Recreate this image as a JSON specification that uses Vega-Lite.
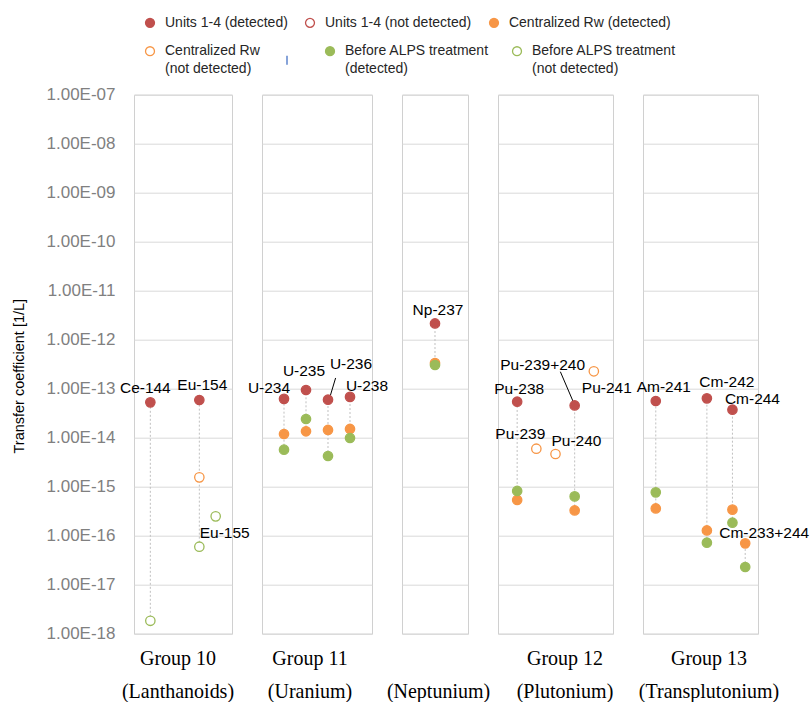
{
  "$schema": "https://vega.github.io/schema/vega-lite/v6.json",
  "padding": {"left": 11, "top": 14.7, "right": 0, "bottom": 0},
  "background": "white",
  "datasets": {
    "pts": [
      {"group": "10", "nuclide": "Ce-144", "pos": 1, "series": "Units 1-4 (detected)", "value": 5.26e-14},
      {"group": "10", "nuclide": "Ce-144", "pos": 1, "series": "Before ALPS treatment (not detected)", "value": 1.83e-18},
      {"group": "10", "nuclide": "Eu-154", "pos": 4, "series": "Units 1-4 (detected)", "value": 5.88e-14},
      {"group": "10", "nuclide": "Eu-154", "pos": 4, "series": "Centralized Rw (not detected)", "value": 1.55e-15},
      {"group": "10", "nuclide": "Eu-154", "pos": 4, "series": "Before ALPS treatment (not detected)", "value": 5.97e-17},
      {"group": "10", "nuclide": "Eu-155", "pos": 5, "series": "Before ALPS treatment (not detected)", "value": 2.48e-16},
      {"group": "11", "nuclide": "U-234", "pos": 1, "series": "Units 1-4 (detected)", "value": 6.2e-14},
      {"group": "11", "nuclide": "U-234", "pos": 1, "series": "Centralized Rw (detected)", "value": 1.19e-14},
      {"group": "11", "nuclide": "U-234", "pos": 1, "series": "Before ALPS treatment (detected)", "value": 5.7e-15},
      {"group": "11", "nuclide": "U-235", "pos": 2, "series": "Units 1-4 (detected)", "value": 9.4e-14},
      {"group": "11", "nuclide": "U-235", "pos": 2, "series": "Centralized Rw (detected)", "value": 1.35e-14},
      {"group": "11", "nuclide": "U-235", "pos": 2, "series": "Before ALPS treatment (detected)", "value": 2.41e-14},
      {"group": "11", "nuclide": "U-236", "pos": 3, "series": "Units 1-4 (detected)", "value": 5.97e-14},
      {"group": "11", "nuclide": "U-236", "pos": 3, "series": "Centralized Rw (detected)", "value": 1.44e-14},
      {"group": "11", "nuclide": "U-236", "pos": 3, "series": "Before ALPS treatment (detected)", "value": 4.23e-15},
      {"group": "11", "nuclide": "U-238", "pos": 4, "series": "Units 1-4 (detected)", "value": 6.8e-14},
      {"group": "11", "nuclide": "U-238", "pos": 4, "series": "Centralized Rw (detected)", "value": 1.51e-14},
      {"group": "11", "nuclide": "U-238", "pos": 4, "series": "Before ALPS treatment (detected)", "value": 9.86e-15},
      {"group": "Np", "nuclide": "Np-237", "pos": 1, "series": "Units 1-4 (detected)", "value": 2.15e-12},
      {"group": "Np", "nuclide": "Np-237", "pos": 1, "series": "Centralized Rw (detected)", "value": 3.34e-13},
      {"group": "Np", "nuclide": "Np-237", "pos": 1, "series": "Before ALPS treatment (detected)", "value": 3.04e-13},
      {"group": "12", "nuclide": "Pu-238", "pos": 1, "series": "Units 1-4 (detected)", "value": 5.43e-14},
      {"group": "12", "nuclide": "Pu-238", "pos": 1, "series": "Centralized Rw (detected)", "value": 5.36e-16},
      {"group": "12", "nuclide": "Pu-238", "pos": 1, "series": "Before ALPS treatment (detected)", "value": 8.2e-16},
      {"group": "12", "nuclide": "Pu-239", "pos": 2, "series": "Centralized Rw (not detected)", "value": 5.97e-15},
      {"group": "12", "nuclide": "Pu-240", "pos": 3, "series": "Centralized Rw (not detected)", "value": 4.64e-15},
      {"group": "12", "nuclide": "Pu-239+240", "pos": 4, "series": "Units 1-4 (detected)", "value": 4.56e-14},
      {"group": "12", "nuclide": "Pu-239+240", "pos": 4, "series": "Centralized Rw (detected)", "value": 3.28e-16},
      {"group": "12", "nuclide": "Pu-239+240", "pos": 4, "series": "Before ALPS treatment (detected)", "value": 6.34e-16},
      {"group": "12", "nuclide": "Pu-241", "pos": 5, "series": "Centralized Rw (not detected)", "value": 2.26e-13},
      {"group": "13", "nuclide": "Am-241", "pos": 1, "series": "Units 1-4 (detected)", "value": 5.6e-14},
      {"group": "13", "nuclide": "Am-241", "pos": 1, "series": "Centralized Rw (detected)", "value": 3.6e-16},
      {"group": "13", "nuclide": "Am-241", "pos": 1, "series": "Before ALPS treatment (detected)", "value": 7.66e-16},
      {"group": "13", "nuclide": "Cm-242", "pos": 5, "series": "Units 1-4 (detected)", "value": 6.35e-14},
      {"group": "13", "nuclide": "Cm-242", "pos": 5, "series": "Centralized Rw (detected)", "value": 1.28e-16},
      {"group": "13", "nuclide": "Cm-242", "pos": 5, "series": "Before ALPS treatment (detected)", "value": 7.2e-17},
      {"group": "13", "nuclide": "Cm-244", "pos": 7, "series": "Units 1-4 (detected)", "value": 3.73e-14},
      {"group": "13", "nuclide": "Cm-244", "pos": 7, "series": "Centralized Rw (detected)", "value": 3.4e-16},
      {"group": "13", "nuclide": "Cm-244", "pos": 7, "series": "Before ALPS treatment (detected)", "value": 1.84e-16},
      {"group": "13", "nuclide": "Cm-233+244", "pos": 8, "series": "Centralized Rw (detected)", "value": 6.97e-17},
      {"group": "13", "nuclide": "Cm-233+244", "pos": 8, "series": "Before ALPS treatment (detected)", "value": 2.3e-17}
    ]
  },
  "data": {"name": "pts"},
  "spacing": 30,
  "bounds": "flush",
  "resolve": {
    "scale": {"x": "independent", "y": "independent", "fill": "independent", "stroke": "independent", "shape": "independent"},
    "legend": {"fill": "independent", "stroke": "independent", "shape": "independent"}
  },
  "hconcat": [
    {
      "width": 98, "height": 539,
      "transform": [{"filter": "datum.group == '10'"}],
      "resolve": {
        "scale": {"fill": "independent", "stroke": "independent", "shape": "independent"},
        "legend": {"fill": "independent", "stroke": "independent", "shape": "independent"}
      },
      "encoding": {
        "x": {"field": "pos", "type": "quantitative", "scale": {"domain": [0, 6], "nice": false, "zero": false},
              "axis": {"title": ["Group 10", "(Lanthanoids)"], "titleX": 43.5, "titleY": 30.5}},
        "y": {"field": "value", "type": "quantitative", "scale": {"type": "log", "domain": [1e-18, 1e-7], "nice": false},
              "axis": {"values": [1e-18, 1e-17, 1e-16, 1e-15, 1e-14, 1e-13, 1e-12, 1e-11, 1e-10, 1e-9, 1e-8, 1e-7],
                       "labelExpr": "'1.00E-' + (round(-log(datum.value)/LN10) < 10 ? '0' : '') + round(-log(datum.value)/LN10)",
                       "title": "Transfer coefficient [1/L]", "titleX": -110.5, "titleY": 281, "titleAngle": 270,
                       "titleBaseline": "alphabetic", "titleAlign": "center"}}
      },
      "layer": [
        {"transform": [{"aggregate": [{"op": "min", "field": "value", "as": "value"}, {"op": "max", "field": "value", "as": "hi"}], "groupby": ["nuclide", "pos"]}],
         "mark": {"type": "rule", "color": "#c0c0c0", "strokeWidth": 1, "strokeDash": [2, 2]},
         "encoding": {"y2": {"field": "hi"}}},
        {"transform": [{"filter": {"field": "series", "oneOf": ["Units 1-4 (detected)", "Units 1-4 (not detected)", "Centralized Rw (detected)"]}}],
         "mark": {"type": "point", "filled": true, "size": 88, "strokeWidth": 1.3, "opacity": 1},
         "encoding": {
           "fill": {"field": "series", "type": "nominal",
             "scale": {"domain": ["Units 1-4 (detected)", "Units 1-4 (not detected)", "Centralized Rw (detected)"], "range": ["#C0504D", "#ffffff", "#F79646"]},
             "legend": {"orient": "none", "legendX": 9, "legendY": -79.3, "direction": "horizontal", "columns": 3, "title": null,
               "symbolSize": 80, "symbolStrokeWidth": 1.3, "symbolOpacity": 1, "labelFont": "Liberation Sans", "labelFontSize": 14,
               "labelColor": "#262626", "labelOffset": 8, "labelLimit": 300, "columnPadding": 14, "padding": 0}},
           "stroke": {"field": "series", "type": "nominal",
             "scale": {"domain": ["Units 1-4 (detected)", "Units 1-4 (not detected)", "Centralized Rw (detected)"], "range": ["#C0504D", "#C0504D", "#F79646"]},
             "legend": {"orient": "none", "legendX": 9, "legendY": -79.3, "direction": "horizontal", "columns": 3, "title": null,
               "symbolSize": 80, "symbolStrokeWidth": 1.3, "symbolOpacity": 1, "labelFont": "Liberation Sans", "labelFontSize": 14,
               "labelColor": "#262626", "labelOffset": 8, "labelLimit": 300, "columnPadding": 14, "padding": 0}}
         }},
        {"transform": [{"filter": {"field": "series", "oneOf": ["Centralized Rw (not detected)", "Before ALPS treatment (detected)", "Before ALPS treatment (not detected)"]}}],
         "mark": {"type": "point", "filled": true, "size": 88, "strokeWidth": 1.3, "opacity": 1},
         "encoding": {
           "fill": {"field": "series", "type": "nominal",
             "scale": {"domain": ["Centralized Rw (not detected)", "(blank)", "Before ALPS treatment (detected)", "Before ALPS treatment (not detected)"], "range": ["#ffffff", "#4472C4", "#9BBB59", "#ffffff"]},
             "legend": {"orient": "none", "legendX": 9, "legendY": -50.5, "direction": "horizontal", "columns": 4, "title": null,
               "symbolSize": 80, "symbolStrokeWidth": 1.3, "symbolOpacity": 1, "labelFont": "Liberation Sans", "labelFontSize": 14,
               "labelColor": "#262626", "labelOffset": 8, "labelLimit": 300, "columnPadding": 20, "padding": 0,
               "labelExpr": "datum.value == 'Centralized Rw (not detected)' ? ['Centralized Rw', '(not detected)'] : datum.value == 'Before ALPS treatment (detected)' ? ['Before ALPS treatment', '(detected)'] : datum.value == 'Before ALPS treatment (not detected)' ? ['Before ALPS treatment', '(not detected)'] : ''"}},
           "stroke": {"field": "series", "type": "nominal",
             "scale": {"domain": ["Centralized Rw (not detected)", "(blank)", "Before ALPS treatment (detected)", "Before ALPS treatment (not detected)"], "range": ["#F79646", "#4472C4", "#9BBB59", "#9BBB59"]},
             "legend": {"orient": "none", "legendX": 9, "legendY": -50.5, "direction": "horizontal", "columns": 4, "title": null,
               "symbolSize": 80, "symbolStrokeWidth": 1.3, "symbolOpacity": 1, "labelFont": "Liberation Sans", "labelFontSize": 14,
               "labelColor": "#262626", "labelOffset": 8, "labelLimit": 300, "columnPadding": 20, "padding": 0,
               "labelExpr": "datum.value == 'Centralized Rw (not detected)' ? ['Centralized Rw', '(not detected)'] : datum.value == 'Before ALPS treatment (detected)' ? ['Before ALPS treatment', '(detected)'] : datum.value == 'Before ALPS treatment (not detected)' ? ['Before ALPS treatment', '(not detected)'] : ''"}},
           "shape": {"field": "series", "type": "nominal",
             "scale": {"domain": ["Centralized Rw (not detected)", "(blank)", "Before ALPS treatment (detected)", "Before ALPS treatment (not detected)"], "range": ["circle", "M0,-1L0,1", "circle", "circle"]},
             "legend": {"orient": "none", "legendX": 9, "legendY": -50.5, "direction": "horizontal", "columns": 4, "title": null,
               "symbolSize": 80, "symbolStrokeWidth": 1.3, "symbolOpacity": 1, "labelFont": "Liberation Sans", "labelFontSize": 14,
               "labelColor": "#262626", "labelOffset": 8, "labelLimit": 300, "columnPadding": 20, "padding": 0,
               "labelExpr": "datum.value == 'Centralized Rw (not detected)' ? ['Centralized Rw', '(not detected)'] : datum.value == 'Before ALPS treatment (detected)' ? ['Before ALPS treatment', '(detected)'] : datum.value == 'Before ALPS treatment (not detected)' ? ['Before ALPS treatment', '(not detected)'] : ''"}}
         }},
        {"transform": [{"aggregate": [{"op": "max", "field": "value", "as": "value"}], "groupby": ["group", "nuclide", "pos"]}],
         "mark": {"type": "text", "font": "Liberation Sans", "fontSize": 15.5, "color": "#000000", "align": "center", "baseline": "middle",
                  "dx": {"expr": "[-5,3,9,-15,-2,23,17,3,2,-16,21,-32,13,8,20,20,19][indexof(['Ce-144','Eu-154','Eu-155','U-234','U-235','U-236','U-238','Np-237','Pu-238','Pu-239','Pu-240','Pu-239+240','Pu-241','Am-241','Cm-242','Cm-244','Cm-233+244'], datum.nuclide)]"},
                  "dy": {"expr": "[-14,-15,17,-11,-19,-36,-11,-13,-13,-15,-13,-40,17,-14,-16,-11,-10][indexof(['Ce-144','Eu-154','Eu-155','U-234','U-235','U-236','U-238','Np-237','Pu-238','Pu-239','Pu-240','Pu-239+240','Pu-241','Am-241','Cm-242','Cm-244','Cm-233+244'], datum.nuclide)]"}},
         "encoding": {"text": {"field": "nuclide"}}}
      ]
    },
    {
      "width": 110, "height": 539,
      "transform": [{"filter": "datum.group == '11'"}],
      "encoding": {
        "x": {"field": "pos", "type": "quantitative", "scale": {"domain": [0, 5], "nice": false, "zero": false},
              "axis": {"title": ["Group 11", "(Uranium)"], "titleX": 47.5, "titleY": 30.5}},
        "y": {"field": "value", "type": "quantitative", "scale": {"type": "log", "domain": [1e-18, 1e-7], "nice": false},
              "axis": {"values": [1e-18, 1e-17, 1e-16, 1e-15, 1e-14, 1e-13, 1e-12, 1e-11, 1e-10, 1e-9, 1e-8, 1e-7], "labels": false, "title": null}}
      },
      "layer": [
        {"transform": [{"aggregate": [{"op": "min", "field": "value", "as": "value"}, {"op": "max", "field": "value", "as": "hi"}], "groupby": ["nuclide", "pos"]}],
         "mark": {"type": "rule", "color": "#c0c0c0", "strokeWidth": 1, "strokeDash": [2, 2]},
         "encoding": {"y2": {"field": "hi"}}},
        {"transform": [{"filter": "datum.nuclide == 'U-236'"}, {"aggregate": [{"op": "max", "field": "value", "as": "value"}], "groupby": ["nuclide", "pos"]}],
         "mark": {"type": "rule", "color": "#000000", "strokeWidth": 1, "xOffset": 2.3, "yOffset": -4, "x2Offset": 7.6, "y2Offset": -21.7},
         "encoding": {"x2": {"field": "pos"}, "y2": {"field": "value"}}},
        {"mark": {"type": "point", "filled": true, "size": 88, "strokeWidth": 1.3, "opacity": 1},
         "encoding": {
           "fill": {"field": "series", "type": "nominal", "legend": null,
             "scale": {"domain": ["Units 1-4 (detected)", "Units 1-4 (not detected)", "Centralized Rw (detected)", "Centralized Rw (not detected)", "Before ALPS treatment (detected)", "Before ALPS treatment (not detected)"],
                       "range": ["#C0504D", "#ffffff", "#F79646", "#ffffff", "#9BBB59", "#ffffff"]}},
           "stroke": {"field": "series", "type": "nominal", "legend": null,
             "scale": {"domain": ["Units 1-4 (detected)", "Units 1-4 (not detected)", "Centralized Rw (detected)", "Centralized Rw (not detected)", "Before ALPS treatment (detected)", "Before ALPS treatment (not detected)"],
                       "range": ["#C0504D", "#C0504D", "#F79646", "#F79646", "#9BBB59", "#9BBB59"]}}
         }},
        {"transform": [{"aggregate": [{"op": "max", "field": "value", "as": "value"}], "groupby": ["group", "nuclide", "pos"]}],
         "mark": {"type": "text", "font": "Liberation Sans", "fontSize": 15.5, "color": "#000000", "align": "center", "baseline": "middle",
                  "dx": {"expr": "[-5,3,9,-15,-2,23,17,3,2,-16,21,-32,13,8,20,20,19][indexof(['Ce-144','Eu-154','Eu-155','U-234','U-235','U-236','U-238','Np-237','Pu-238','Pu-239','Pu-240','Pu-239+240','Pu-241','Am-241','Cm-242','Cm-244','Cm-233+244'], datum.nuclide)]"},
                  "dy": {"expr": "[-14,-15,17,-11,-19,-36,-11,-13,-13,-15,-13,-40,17,-14,-16,-11,-10][indexof(['Ce-144','Eu-154','Eu-155','U-234','U-235','U-236','U-238','Np-237','Pu-238','Pu-239','Pu-240','Pu-239+240','Pu-241','Am-241','Cm-242','Cm-244','Cm-233+244'], datum.nuclide)]"}},
         "encoding": {"text": {"field": "nuclide"}}}
      ]
    },
    {
      "width": 66, "height": 539,
      "transform": [{"filter": "datum.group == 'Np'"}],
      "encoding": {
        "x": {"field": "pos", "type": "quantitative", "scale": {"domain": [0, 2], "nice": false, "zero": false},
              "axis": {"title": [" ", "(Neptunium)"], "titleX": 36, "titleY": 30.5}},
        "y": {"field": "value", "type": "quantitative", "scale": {"type": "log", "domain": [1e-18, 1e-7], "nice": false},
              "axis": {"values": [1e-18, 1e-17, 1e-16, 1e-15, 1e-14, 1e-13, 1e-12, 1e-11, 1e-10, 1e-9, 1e-8, 1e-7], "labels": false, "title": null}}
      },
      "layer": [
        {"transform": [{"aggregate": [{"op": "min", "field": "value", "as": "value"}, {"op": "max", "field": "value", "as": "hi"}], "groupby": ["nuclide", "pos"]}],
         "mark": {"type": "rule", "color": "#c0c0c0", "strokeWidth": 1, "strokeDash": [2, 2]},
         "encoding": {"y2": {"field": "hi"}}},
        {"mark": {"type": "point", "filled": true, "size": 88, "strokeWidth": 1.3, "opacity": 1},
         "encoding": {
           "fill": {"field": "series", "type": "nominal", "legend": null,
             "scale": {"domain": ["Units 1-4 (detected)", "Units 1-4 (not detected)", "Centralized Rw (detected)", "Centralized Rw (not detected)", "Before ALPS treatment (detected)", "Before ALPS treatment (not detected)"],
                       "range": ["#C0504D", "#ffffff", "#F79646", "#ffffff", "#9BBB59", "#ffffff"]}},
           "stroke": {"field": "series", "type": "nominal", "legend": null,
             "scale": {"domain": ["Units 1-4 (detected)", "Units 1-4 (not detected)", "Centralized Rw (detected)", "Centralized Rw (not detected)", "Before ALPS treatment (detected)", "Before ALPS treatment (not detected)"],
                       "range": ["#C0504D", "#C0504D", "#F79646", "#F79646", "#9BBB59", "#9BBB59"]}}
         }},
        {"transform": [{"aggregate": [{"op": "max", "field": "value", "as": "value"}], "groupby": ["group", "nuclide", "pos"]}],
         "mark": {"type": "text", "font": "Liberation Sans", "fontSize": 15.5, "color": "#000000", "align": "center", "baseline": "middle",
                  "dx": {"expr": "[-5,3,9,-15,-2,23,17,3,2,-16,21,-32,13,8,20,20,19][indexof(['Ce-144','Eu-154','Eu-155','U-234','U-235','U-236','U-238','Np-237','Pu-238','Pu-239','Pu-240','Pu-239+240','Pu-241','Am-241','Cm-242','Cm-244','Cm-233+244'], datum.nuclide)]"},
                  "dy": {"expr": "[-14,-15,17,-11,-19,-36,-11,-13,-13,-15,-13,-40,17,-14,-16,-11,-10][indexof(['Ce-144','Eu-154','Eu-155','U-234','U-235','U-236','U-238','Np-237','Pu-238','Pu-239','Pu-240','Pu-239+240','Pu-241','Am-241','Cm-242','Cm-244','Cm-233+244'], datum.nuclide)]"}},
         "encoding": {"text": {"field": "nuclide"}}}
      ]
    },
    {
      "width": 115, "height": 539,
      "transform": [{"filter": "datum.group == '12'"}],
      "encoding": {
        "x": {"field": "pos", "type": "quantitative", "scale": {"domain": [0, 6], "nice": false, "zero": false},
              "axis": {"title": ["Group 12", "(Plutonium)"], "titleX": 66.5, "titleY": 30.5}},
        "y": {"field": "value", "type": "quantitative", "scale": {"type": "log", "domain": [1e-18, 1e-7], "nice": false},
              "axis": {"values": [1e-18, 1e-17, 1e-16, 1e-15, 1e-14, 1e-13, 1e-12, 1e-11, 1e-10, 1e-9, 1e-8, 1e-7], "labels": false, "title": null}}
      },
      "layer": [
        {"transform": [{"aggregate": [{"op": "min", "field": "value", "as": "value"}, {"op": "max", "field": "value", "as": "hi"}], "groupby": ["nuclide", "pos"]}],
         "mark": {"type": "rule", "color": "#c0c0c0", "strokeWidth": 1, "strokeDash": [2, 2]},
         "encoding": {"y2": {"field": "hi"}}},
        {"transform": [{"filter": "datum.nuclide == 'Pu-239+240'"}, {"aggregate": [{"op": "max", "field": "value", "as": "value"}], "groupby": ["nuclide", "pos"]}],
         "mark": {"type": "rule", "color": "#000000", "strokeWidth": 1, "xOffset": 1.4, "yOffset": 3, "x2Offset": -14.3, "y2Offset": -33.7},
         "encoding": {"x2": {"field": "pos"}, "y2": {"field": "value"}}},
        {"mark": {"type": "point", "filled": true, "size": 88, "strokeWidth": 1.3, "opacity": 1},
         "encoding": {
           "fill": {"field": "series", "type": "nominal", "legend": null,
             "scale": {"domain": ["Units 1-4 (detected)", "Units 1-4 (not detected)", "Centralized Rw (detected)", "Centralized Rw (not detected)", "Before ALPS treatment (detected)", "Before ALPS treatment (not detected)"],
                       "range": ["#C0504D", "#ffffff", "#F79646", "#ffffff", "#9BBB59", "#ffffff"]}},
           "stroke": {"field": "series", "type": "nominal", "legend": null,
             "scale": {"domain": ["Units 1-4 (detected)", "Units 1-4 (not detected)", "Centralized Rw (detected)", "Centralized Rw (not detected)", "Before ALPS treatment (detected)", "Before ALPS treatment (not detected)"],
                       "range": ["#C0504D", "#C0504D", "#F79646", "#F79646", "#9BBB59", "#9BBB59"]}}
         }},
        {"transform": [{"aggregate": [{"op": "max", "field": "value", "as": "value"}], "groupby": ["group", "nuclide", "pos"]}],
         "mark": {"type": "text", "font": "Liberation Sans", "fontSize": 15.5, "color": "#000000", "align": "center", "baseline": "middle",
                  "dx": {"expr": "[-5,3,9,-15,-2,23,17,3,2,-16,21,-32,13,8,20,20,19][indexof(['Ce-144','Eu-154','Eu-155','U-234','U-235','U-236','U-238','Np-237','Pu-238','Pu-239','Pu-240','Pu-239+240','Pu-241','Am-241','Cm-242','Cm-244','Cm-233+244'], datum.nuclide)]"},
                  "dy": {"expr": "[-14,-15,17,-11,-19,-36,-11,-13,-13,-15,-13,-40,17,-14,-16,-11,-10][indexof(['Ce-144','Eu-154','Eu-155','U-234','U-235','U-236','U-238','Np-237','Pu-238','Pu-239','Pu-240','Pu-239+240','Pu-241','Am-241','Cm-242','Cm-244','Cm-233+244'], datum.nuclide)]"}},
         "encoding": {"text": {"field": "nuclide"}}}
      ]
    },
    {
      "width": 115, "height": 539,
      "transform": [{"filter": "datum.group == '13'"}],
      "encoding": {
        "x": {"field": "pos", "type": "quantitative", "scale": {"domain": [0, 9], "nice": false, "zero": false},
              "axis": {"title": ["Group 13", "(Transplutonium)"], "titleX": 65.5, "titleY": 30.5}},
        "y": {"field": "value", "type": "quantitative", "scale": {"type": "log", "domain": [1e-18, 1e-7], "nice": false},
              "axis": {"values": [1e-18, 1e-17, 1e-16, 1e-15, 1e-14, 1e-13, 1e-12, 1e-11, 1e-10, 1e-9, 1e-8, 1e-7], "labels": false, "title": null}}
      },
      "layer": [
        {"transform": [{"aggregate": [{"op": "min", "field": "value", "as": "value"}, {"op": "max", "field": "value", "as": "hi"}], "groupby": ["nuclide", "pos"]}],
         "mark": {"type": "rule", "color": "#c0c0c0", "strokeWidth": 1, "strokeDash": [2, 2]},
         "encoding": {"y2": {"field": "hi"}}},
        {"mark": {"type": "point", "filled": true, "size": 88, "strokeWidth": 1.3, "opacity": 1},
         "encoding": {
           "fill": {"field": "series", "type": "nominal", "legend": null,
             "scale": {"domain": ["Units 1-4 (detected)", "Units 1-4 (not detected)", "Centralized Rw (detected)", "Centralized Rw (not detected)", "Before ALPS treatment (detected)", "Before ALPS treatment (not detected)"],
                       "range": ["#C0504D", "#ffffff", "#F79646", "#ffffff", "#9BBB59", "#ffffff"]}},
           "stroke": {"field": "series", "type": "nominal", "legend": null,
             "scale": {"domain": ["Units 1-4 (detected)", "Units 1-4 (not detected)", "Centralized Rw (detected)", "Centralized Rw (not detected)", "Before ALPS treatment (detected)", "Before ALPS treatment (not detected)"],
                       "range": ["#C0504D", "#C0504D", "#F79646", "#F79646", "#9BBB59", "#9BBB59"]}}
         }},
        {"transform": [{"aggregate": [{"op": "max", "field": "value", "as": "value"}], "groupby": ["group", "nuclide", "pos"]}],
         "mark": {"type": "text", "font": "Liberation Sans", "fontSize": 15.5, "color": "#000000", "align": "center", "baseline": "middle",
                  "dx": {"expr": "[-5,3,9,-15,-2,23,17,3,2,-16,21,-32,13,8,20,20,19][indexof(['Ce-144','Eu-154','Eu-155','U-234','U-235','U-236','U-238','Np-237','Pu-238','Pu-239','Pu-240','Pu-239+240','Pu-241','Am-241','Cm-242','Cm-244','Cm-233+244'], datum.nuclide)]"},
                  "dy": {"expr": "[-14,-15,17,-11,-19,-36,-11,-13,-13,-15,-13,-40,17,-14,-16,-11,-10][indexof(['Ce-144','Eu-154','Eu-155','U-234','U-235','U-236','U-238','Np-237','Pu-238','Pu-239','Pu-240','Pu-239+240','Pu-241','Am-241','Cm-242','Cm-244','Cm-233+244'], datum.nuclide)]"}},
         "encoding": {"text": {"field": "nuclide"}}}
      ]
    }
  ],
  "config": {
    "view": {"stroke": "#d0d0d0", "strokeWidth": 1},
    "font": "Liberation Sans",
    "style": {"guide-label": {"lineHeight": 18}},
    "axisX": {"labels": false, "ticks": false, "domain": false, "grid": false, "titleAlign": "center", "titleBaseline": "alphabetic",
              "titleFont": "Liberation Serif", "titleFontSize": 20, "titleFontWeight": "normal", "titleColor": "#000000", "titleLineHeight": 33.5},
    "axisY": {"grid": true, "gridColor": "#d9d9d9", "gridWidth": 1, "ticks": false, "tickSize": 0, "domain": false,
              "labelFont": "Liberation Sans", "labelFontSize": 17, "labelColor": "#808080", "labelPadding": 19,
              "titleFont": "Liberation Sans", "titleFontSize": 14.5, "titleFontWeight": "normal", "titleColor": "#000000"}
  }
}
